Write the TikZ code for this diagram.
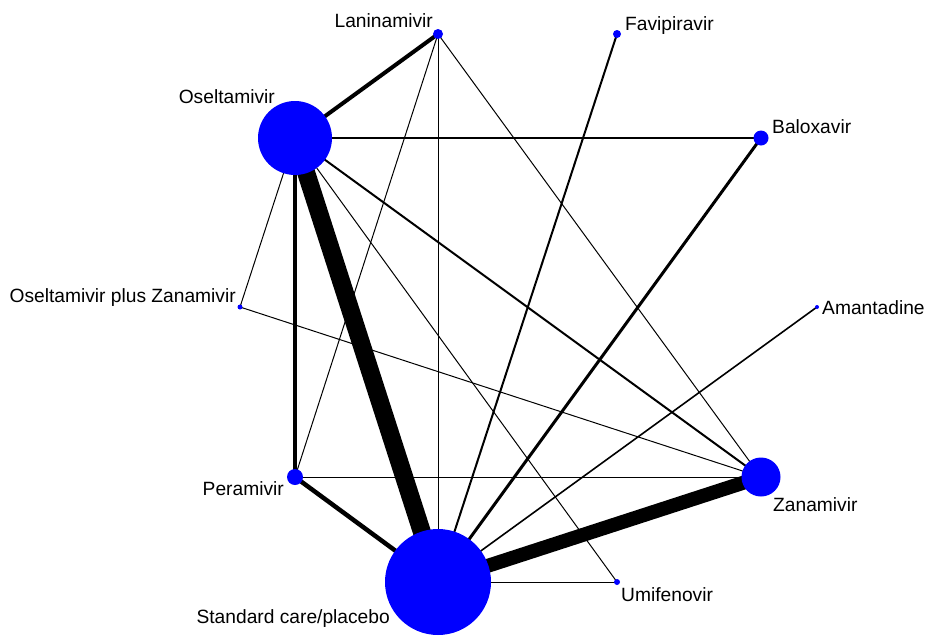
\documentclass[tikz,border=0pt]{standalone}
\usepackage{fontspec}
\setmainfont{Liberation Sans}
\usetikzlibrary{backgrounds}

\begin{document}
\begin{tikzpicture}[x=1pt,y=-1pt,
 drug/.style={circle, fill=blue, inner sep=0pt, minimum size=#1},
 link/.style={line width=#1pt},
 lbl/.style={inner sep=0pt, font=\fontsize{19.2}{23}\selectfont}]
 \useasboundingbox (0,0) rectangle (930,638);
 \node [drug=10pt] (lan) at (438,34) {};
 \node [drug=8pt] (fav) at (617,34) {};
 \node [drug=15pt] (bal) at (761,138) {};
 \node [drug=4pt] (ama) at (817,307) {};
 \node [drug=39pt] (zan) at (761,477) {};
 \node [drug=6pt] (umi) at (617,582) {};
 \node [drug=106pt] (std) at (438,582) {};
 \node [drug=16pt] (per) at (295,477) {};
 \node [drug=5pt] (osz) at (240,307) {};
 \node [drug=74pt] (ose) at (295,138) {};
 \begin{scope}[on background layer]
  \draw [link=18] (ose.center) -- (std.center);
  \draw [link=14] (zan.center) -- (std.center);
  \draw [link=4] (ose.center) -- (lan.center);
  \draw [link=4] (ose.center) -- (per.center);
  \draw [link=4.5] (per.center) -- (std.center);
  \draw [link=3] (bal.center) -- (std.center);
  \draw [link=2] (ose.center) -- (bal.center);
  \draw [link=2] (ose.center) -- (zan.center);
  \draw [link=2] (fav.center) -- (std.center);
  \draw [link=1.6] (ama.center) -- (std.center);
  \draw [link=1] (ose.center) -- (osz.center);
  \draw [link=1] (ose.center) -- (umi.center);
  \draw [link=1] (lan.center) -- (std.center);
  \draw [link=1] (lan.center) -- (per.center);
  \draw [link=1] (lan.center) -- (zan.center);
  \draw [link=1] (per.center) -- (zan.center);
  \draw [link=1] (osz.center) -- (zan.center);
  \draw [link=1] (umi.center) -- (std.center);
 \end{scope}
 \node [lbl, anchor=base east] (lanlbl) at (433,27) {Laninamivir};
 \node [lbl, anchor=base west] (favlbl) at (625,30) {Favipiravir};
 \node [lbl, anchor=base west] (ballbl) at (772,133) {Baloxavir};
 \node [lbl, anchor=base west] (amalbl) at (822,314) {Amantadine};
 \node [lbl, anchor=base west] (zanlbl) at (773,511) {Zanamivir};
 \node [lbl, anchor=base west] (umilbl) at (621,601) {Umifenovir};
 \node [lbl, anchor=base east] (stdlbl) at (390,623) {Standard care/placebo};
 \node [lbl, anchor=base east] (perlbl) at (284,495) {Peramivir};
 \node [lbl, anchor=base east] (oszlbl) at (236,302) {Oseltamivir plus Zanamivir};
 \node [lbl, anchor=base east] (oselbl) at (275,103) {Oseltamivir};
\end{tikzpicture}
\end{document}
